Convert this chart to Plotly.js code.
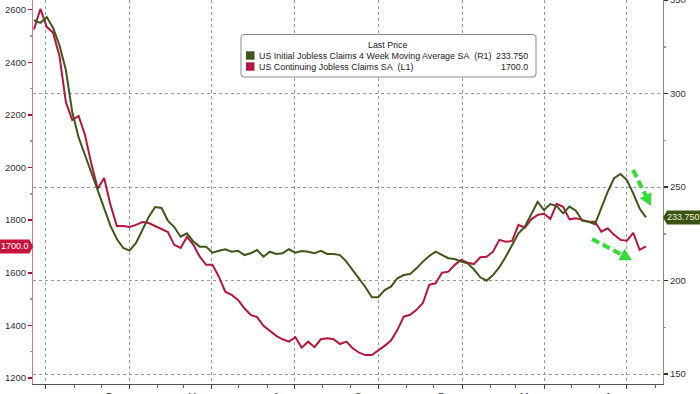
<!DOCTYPE html>
<html><head><meta charset="utf-8">
<script src="https://cdn.plot.ly/plotly-3.0.1.min.js"></script>
<style>html,body{margin:0;padding:0;background:#fff;}#chart{width:700px;height:394px;}</style>
</head><body><div id="chart"></div>
<script>
// ---- data (weekly) ----
const weekDates = [
"2021-09-18","2021-09-25","2021-10-02","2021-10-09","2021-10-16","2021-10-23","2021-10-30","2021-11-06","2021-11-13","2021-11-20","2021-11-27","2021-12-04","2021-12-11","2021-12-18","2021-12-25",
"2022-01-01","2022-01-08","2022-01-15","2022-01-22","2022-01-29","2022-02-05","2022-02-12","2022-02-19","2022-02-26","2022-03-05","2022-03-12","2022-03-19","2022-03-26","2022-04-02","2022-04-09","2022-04-16","2022-04-23","2022-04-30","2022-05-07","2022-05-14","2022-05-21","2022-05-28","2022-06-04","2022-06-11","2022-06-18","2022-06-25","2022-07-02","2022-07-09","2022-07-16","2022-07-23","2022-07-30","2022-08-06","2022-08-13","2022-08-20","2022-08-27","2022-09-03","2022-09-10","2022-09-17","2022-09-24","2022-10-01","2022-10-08","2022-10-15","2022-10-22","2022-10-29","2022-11-05","2022-11-12","2022-11-19","2022-11-26","2022-12-03","2022-12-10","2022-12-17","2022-12-24","2022-12-31",
"2023-01-07","2023-01-14","2023-01-21","2023-01-28","2023-02-04","2023-02-11","2023-02-18","2023-02-25","2023-03-04","2023-03-11","2023-03-18","2023-03-25","2023-04-01","2023-04-08","2023-04-15","2023-04-22","2023-04-29","2023-05-06","2023-05-13","2023-05-20","2023-05-27","2023-06-03","2023-06-10","2023-06-17","2023-06-24","2023-07-01","2023-07-08","2023-07-15","2023-07-22"];

// US Initial Jobless Claims 4 Week Moving Average SA (thousands, right axis)
const initialClaims = [
339.2,337.8,340.9,335.0,325.8,312.6,290.1,276.5,267.1,257.7,
248.0,239.3,229.2,222.2,217.4,216.0,220.1,227.0,234.0,239.3,
238.8,232.0,228.6,223.4,225.2,220.8,218.1,218.1,214.9,215.9,
216.7,215.4,215.9,213.6,214.6,216.3,212.7,215.4,214.2,214.6,
216.7,214.9,215.8,215.4,214.6,215.9,214.2,214.2,213.6,210.1,
205.6,201.2,196.4,191.0,191.0,194.9,196.7,201.2,202.9,203.5,
206.5,210.1,213.1,215.4,213.6,211.9,211.5,210.1,209.2,206.0,
201.7,199.9,202.9,207.1,212.7,219.0,225.2,228.8,235.9,242.1,
237.7,240.9,239.8,235.9,239.5,237.3,232.0,231.4,230.1,238.6,
247.5,254.7,257.0,253.7,246.6,238.5,233.75];

// US Continuing Jobless Claims SA (thousands, left axis)
const continuingClaims = [
2525,2603,2535,2512,2424,2249,2181,2196,2124,2014,
1919,1960,1858,1778,1778,1774,1782,1793,1789,1778,
1767,1755,1706,1694,1737,1706,1661,1630,1630,1585,
1528,1516,1497,1465,1440,1431,1398,1380,1360,1347,
1338,1355,1315,1338,1317,1347,1351,1347,1329,1338,
1313,1296,1287,1287,1304,1322,1342,1382,1433,1440,
1459,1485,1554,1560,1600,1604,1630,1649,1638,1633,
1659,1661,1680,1725,1718,1721,1782,1771,1803,1820,
1824,1805,1862,1851,1803,1807,1801,1794,1794,1756,
1769,1744,1725,1722,1752,1687,1700.0];

const seriesNames = ["US Initial Jobless Claims 4 Week Moving Average SA\u00a0\u00a0(R1)", "US Continuing Jobless Claims SA\u00a0\u00a0(L1)"];
const seriesColors = ["#3e5716", "#b5163d"];
const legendTitle = "Last Price";
const leftTicks = [1200,1400,1600,1800,2000,2200,2400,2600];
const rightTicks = [150,200,250,300,350];
const monthLabels = ["Dec","Mar","Jun","Sep","Dec","Mar","Jun"];
const monthLabelDates = ["2021-12-16","2022-03-16","2022-06-16","2022-09-15","2022-12-16","2023-03-16","2023-06-16"];

// ---- layout helpers (pixel -> paper) ----
const ML=33, MR=37, MT=0, MB=10, W=700, H=394;
const PW=W-ML-MR, PH=H-MT-MB;
const px = x => (x-ML)/PW;
const py = y => (H-MB-y)/PH;

const lastInit = initialClaims[initialClaims.length-1];
const lastCont = continuingClaims[continuingClaims.length-1];
const lastTexts = [lastInit.toFixed(3), lastCont.toFixed(1)];

const traces = [
  {x: weekDates, y: continuingClaims, type:'scatter', mode:'lines', name: seriesNames[1],
   line:{color: seriesColors[1], width:2}, yaxis:'y', hoverinfo:'skip'},
  {x: weekDates, y: initialClaims, type:'scatter', mode:'lines', name: seriesNames[0],
   line:{color: seriesColors[0], width:2}, yaxis:'y2', hoverinfo:'skip'}
];

const FONT = 'Liberation Sans, Arial, sans-serif';
const LFS = 8.9;
const shapes = [];
const annotations = [];

// legend box (rounded)
(function(){
  const x0=px(241), x1=px(536), y0=py(77), y1=py(34.5);
  const rx=3/PW, ry=3/PH;
  shapes.push({type:'path', xref:'paper', yref:'paper', layer:'above',
    path:`M ${x0+rx},${y1} L ${x1-rx},${y1} Q ${x1},${y1} ${x1},${y1-ry} L ${x1},${y0+ry} Q ${x1},${y0} ${x1-rx},${y0} L ${x0+rx},${y0} Q ${x0},${y0} ${x0},${y0+ry} L ${x0},${y1-ry} Q ${x0},${y1} ${x0+rx},${y1} Z`,
    fillcolor:'#ffffff', line:{color:'#8a8a8a', width:1}});
  const rowsY=[55.5,66.5];
  for(let i=0;i<2;i++){
    shapes.push({type:'rect', xref:'paper', yref:'paper', layer:'above',
      x0:px(246), x1:px(254.5), y0:py(rowsY[i]+4.2), y1:py(rowsY[i]-4.2),
      fillcolor:seriesColors[i], line:{width:0}});
    annotations.push({xref:'paper', yref:'paper', x:px(257), y:py(rowsY[i]), xanchor:'left', yanchor:'middle',
      text:seriesNames[i], showarrow:false, font:{family:FONT, size:LFS, color:'#222'}});
    annotations.push({xref:'paper', yref:'paper', x:px(530), y:py(rowsY[i]), xanchor:'right', yanchor:'middle',
      text:lastTexts[i], showarrow:false, font:{family:FONT, size:LFS, color:'#222'}});
  }
  annotations.push({xref:'paper', yref:'paper', x:px(388), y:py(45), xanchor:'center', yanchor:'middle',
    text:legendTitle, showarrow:false, font:{family:FONT, size:LFS, color:'#222'}});
})();

// last value tags
shapes.push({type:'path', xref:'paper', yref:'y', ysizemode:'pixel', yanchor:lastCont, layer:'above',
  path:`M ${px(0)},-7 L ${px(29.5)},-7 L ${px(33)},0 L ${px(29.5)},7 L ${px(0)},7 Z`,
  fillcolor:'#c8143c', line:{width:0}});
annotations.push({xref:'paper', yref:'y', x:px(15), y:lastCont, xanchor:'center', yanchor:'middle',
  text:lastTexts[1], showarrow:false, font:{family:FONT, size:9, color:'#ffffff'}});
shapes.push({type:'path', xref:'paper', yref:'y2', ysizemode:'pixel', yanchor:lastInit, layer:'above',
  path:`M ${px(663)},0 L ${px(667)},-7 L ${px(700)},-7 L ${px(700)},7 L ${px(667)},7 Z`,
  fillcolor:'#3b5212', line:{width:0}});
annotations.push({xref:'paper', yref:'y2', x:px(683), y:lastInit, xanchor:'center', yanchor:'middle',
  text:lastTexts[0], showarrow:false, font:{family:FONT, size:9, color:'#eef5dc'}});

// green dashed arrows
function arrow(sx,sy,tx,ty){
  const dx=tx-sx, dy=ty-sy, L=Math.hypot(dx,dy), ux=dx/L, uy=dy/L;
  const hl=12, hw=6.5;
  const bx=tx-ux*hl, by=ty-uy*hl;
  shapes.push({type:'line', xref:'paper', yref:'paper', layer:'above',
    x0:px(sx), y0:py(sy), x1:px(bx+ux*1), y1:py(by+uy*1),
    line:{color:'#36dc36', width:4, dash:'8px,4px'}});
  const c1x=bx+(-uy)*hw, c1y=by+ux*hw, c2x=bx-(-uy)*hw, c2y=by-ux*hw;
  shapes.push({type:'path', xref:'paper', yref:'paper', layer:'above',
    path:`M ${px(tx)},${py(ty)} L ${px(c1x)},${py(c1y)} L ${px(c2x)},${py(c2y)} Z`,
    fillcolor:'#36dc36', line:{width:0}});
}
arrow(633,170,651,206);
arrow(592,239,632,260);

// month labels (mostly below the visible area)
for(let i=0;i<monthLabels.length;i++){
  annotations.push({xref:'x', yref:'paper', x:monthLabelDates[i], y:py(389.5), xanchor:'center', yanchor:'top',
    text:monthLabels[i], showarrow:false, font:{family:FONT, size:10, color:'#333'}});
}

const layout = {
  width:W, height:H, margin:{l:ML, r:MR, t:MT, b:MB, pad:0},
  paper_bgcolor:'#ffffff', plot_bgcolor:'#ffffff', showlegend:false,
  font:{family:FONT, size:9.5, color:'#333'},
  xaxis:{type:'date', range:['2021-09-16 22:00','2023-08-09 16:00'],
    tickmode:'linear', tick0:'2021-10-01', dtick:'M3',
    showgrid:true, gridcolor:'#9a9a9a', griddash:'dot', gridwidth:1,
    showticklabels:false, ticks:'outside', ticklen:4, tickcolor:'#444',
    showline:true, linecolor:'#555', linewidth:1, zeroline:false,
    minor:{tickmode:'linear', tick0:'2021-10-01', dtick:'M1', ticks:'outside', ticklen:3, tickcolor:'#666', showgrid:false}},
  yaxis:{range:[1177,2637], tickmode:'array', tickvals:leftTicks, ticks:'outside', ticklen:4, tickwidth:1.5,
    tickcolor:'#b0102e', showgrid:false, zeroline:false, showline:true, linecolor:'#c9788a', linewidth:1,
    ticklabeloverflow:'allow',
    tickfont:{family:FONT, size:9.5, color:'#333'},
    minor:{tickmode:'linear', tick0:1200, dtick:100, ticks:'outside', ticklen:2, tickcolor:'#999', showgrid:false}},
  yaxis2:{range:[144.65,350], overlaying:'y', side:'right', tickmode:'array', tickvals:rightTicks,
    ticks:'outside', ticklen:4, tickwidth:1.5, tickcolor:'#333', showgrid:true, gridcolor:'#9a9a9a', griddash:'dot', gridwidth:1,
    zeroline:false, showline:true, linecolor:'#8c8a70', linewidth:1, ticklabeloverflow:'allow',
    tickfont:{family:FONT, size:9.5, color:'#333'},
    minor:{tickmode:'linear', tick0:150, dtick:25, ticks:'outside', ticklen:2, tickcolor:'#999', showgrid:false}},
  shapes:shapes, annotations:annotations
};

Plotly.newPlot('chart', traces, layout, {staticPlot:true, displayModeBar:false});
</script>
</body></html>
